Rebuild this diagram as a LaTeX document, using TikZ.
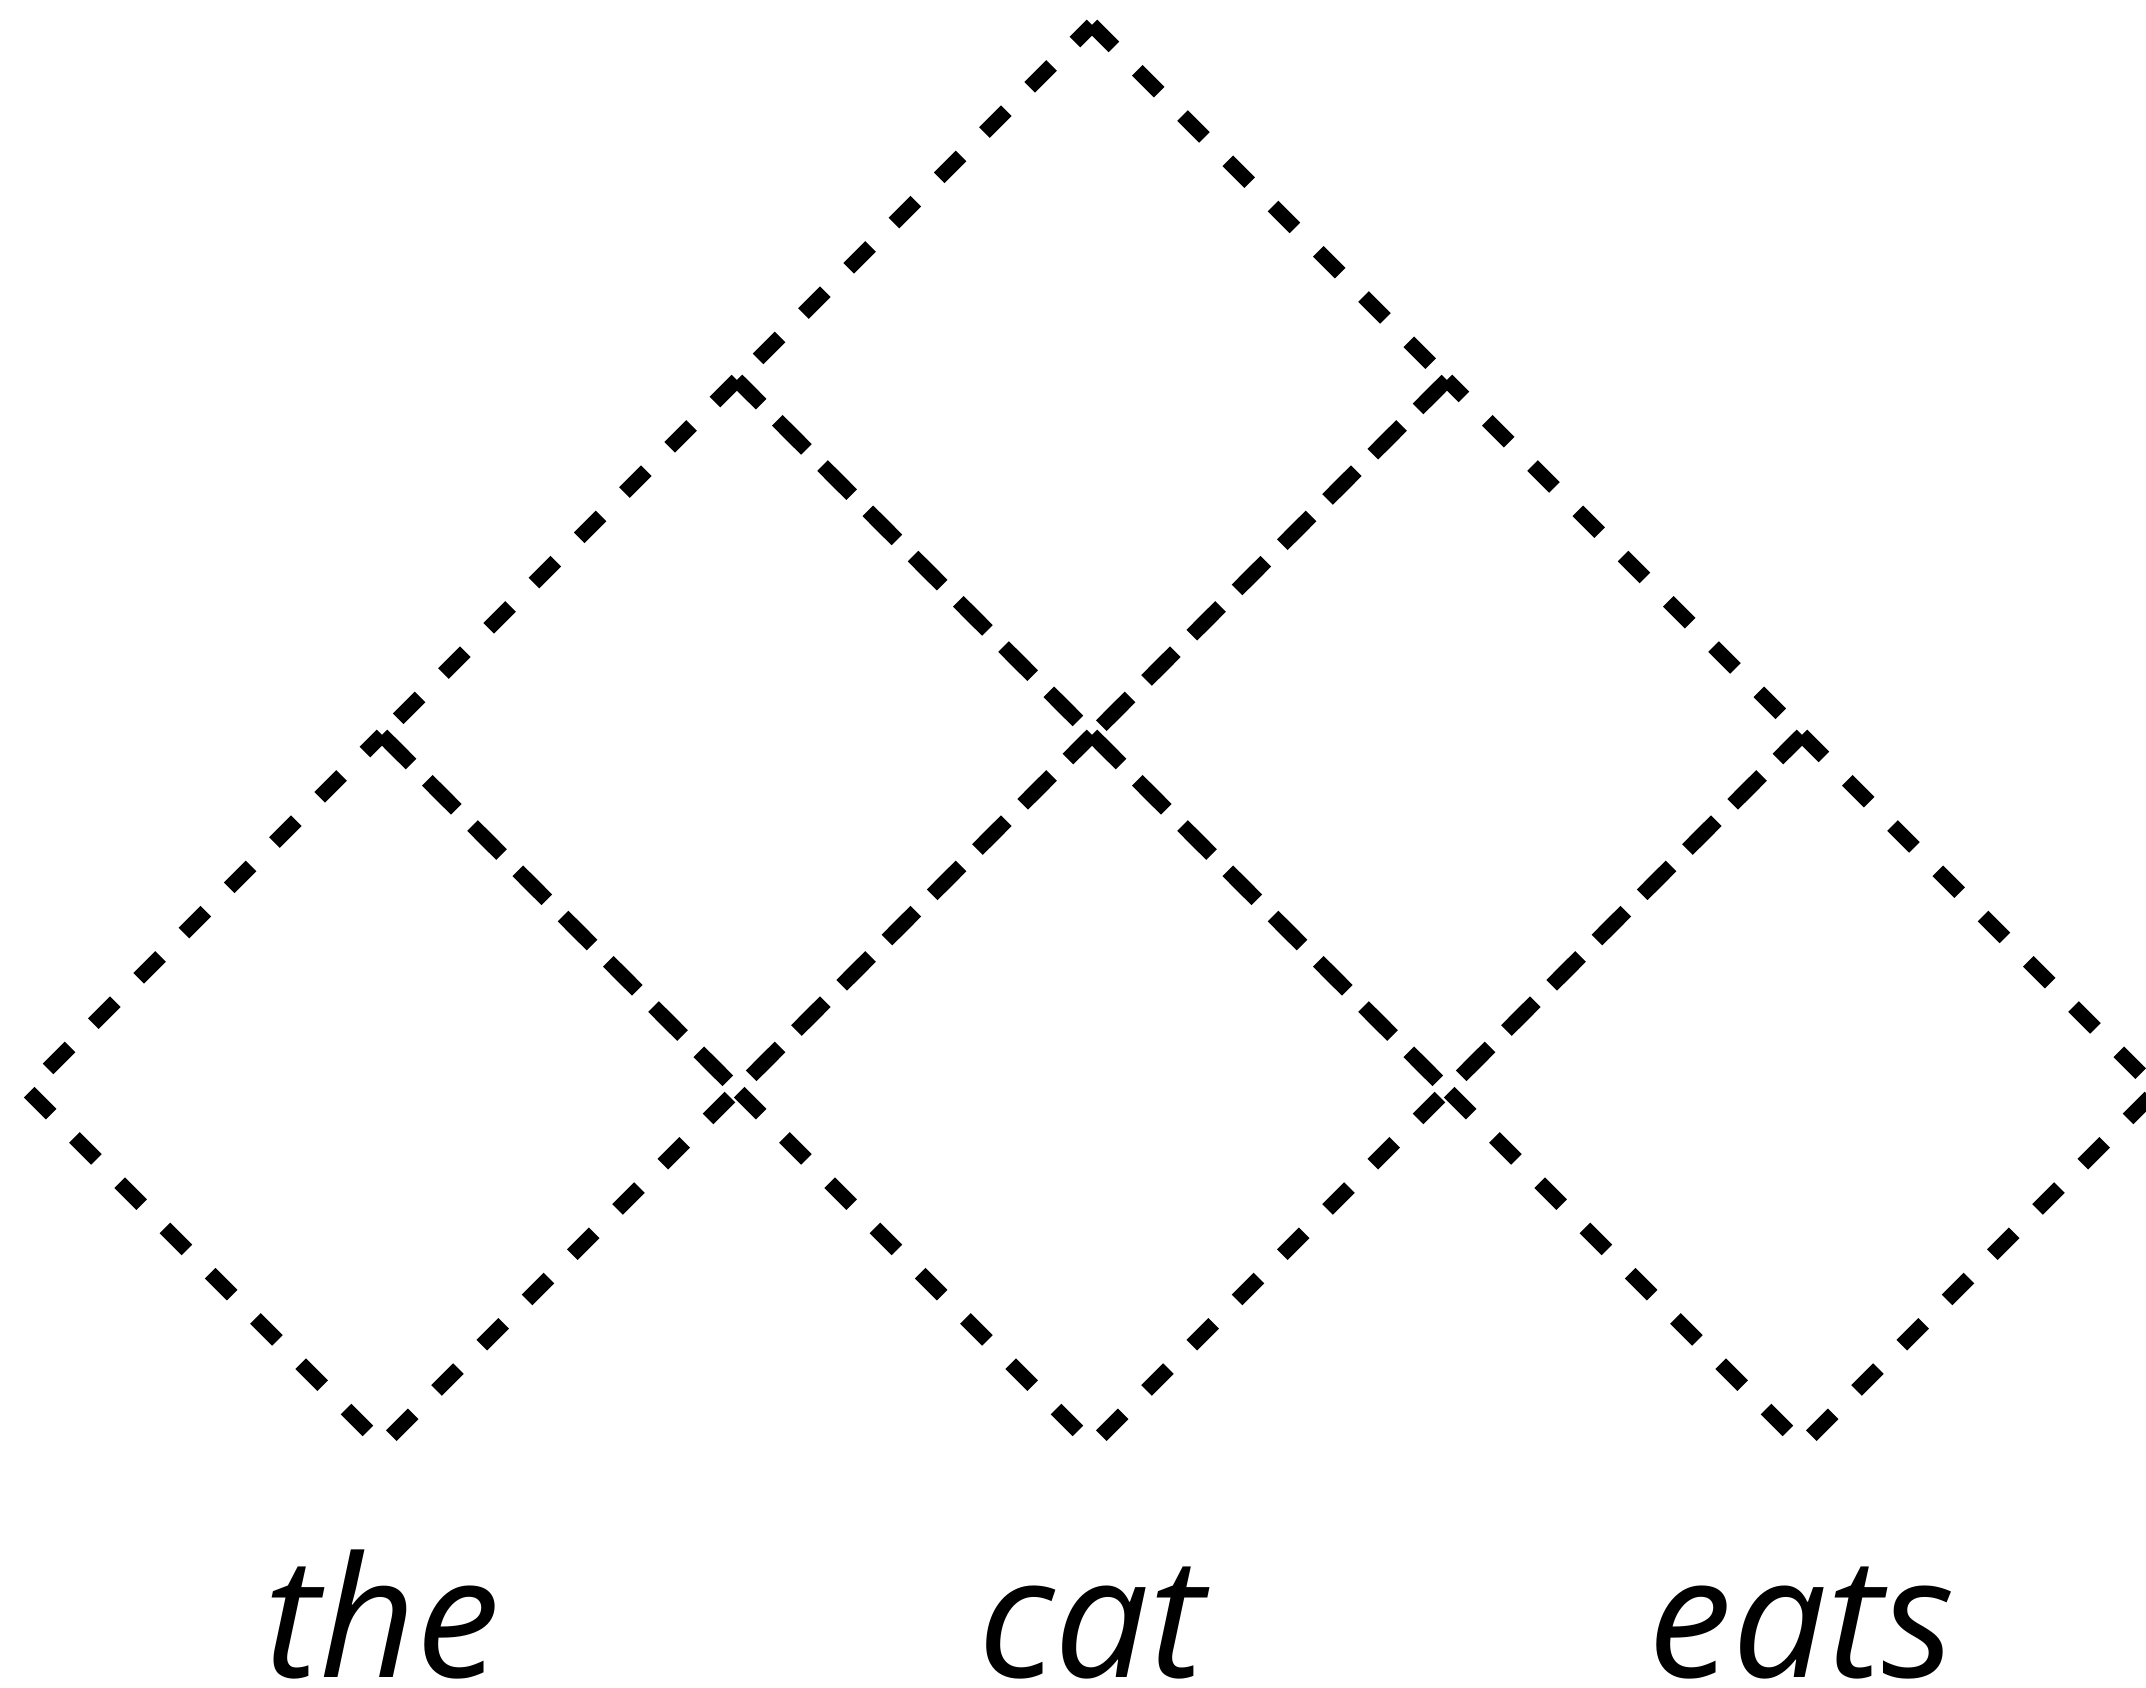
\documentclass[tikz,border=0pt]{standalone}
\usepackage{fontspec}
\newfontfamily\wordfont{Open Sans}
\begin{document}
\begin{tikzpicture}[x=0.25pt,y=-0.25pt,
  cell/.style={draw=black,line width=3.75pt,dash pattern=on 7.75pt off 8.25pt,line join=miter},
  word/.style={anchor=base,inner sep=0pt,text depth=0pt,font=\wordfont\itshape\fontsize{42}{50}\selectfont}]
\useasboundingbox (0,0) rectangle (2146,1688);
\clip (0,0) rectangle (2146,1688);
% grid points
\coordinate (t) at (1092,25);
\coordinate (a1) at (737,380);
\coordinate (a2) at (1447,380);
\coordinate (b1) at (382,735);
\coordinate (b2) at (1092,735);
\coordinate (b3) at (1802,735);
\coordinate (c0) at (27,1090);
\coordinate (c1) at (737,1090);
\coordinate (c2) at (1447,1090);
\coordinate (c3) at (2157,1090);
\coordinate (d1) at (382,1445);
\coordinate (d2) at (1092,1445);
\coordinate (d3) at (1802,1445);
% cells: top, right, bottom, left
\draw[cell] (t) -- (a2) -- (b2) -- (a1) -- cycle;
\draw[cell,dash phase=1.75pt] (a1) -- (b2) -- (c1) -- (b1) -- cycle;
\draw[cell,dash phase=1.75pt] (a2) -- (b3) -- (c2) -- (b2) -- cycle;
\draw[cell] (b1) -- (c1) -- (d1) -- (c0) -- cycle;
\draw[cell] (b2) -- (c2) -- (d2) -- (c1) -- cycle;
\draw[cell] (b3) -- (c3) -- (d3) -- (c2) -- cycle;
% words
\node[word] (w1) at (382,1678) {the};
\node[word] (w2) at (1092,1678) {cat};
\node[word] (w3) at (1802,1678) {eats};
\end{tikzpicture}
\end{document}
